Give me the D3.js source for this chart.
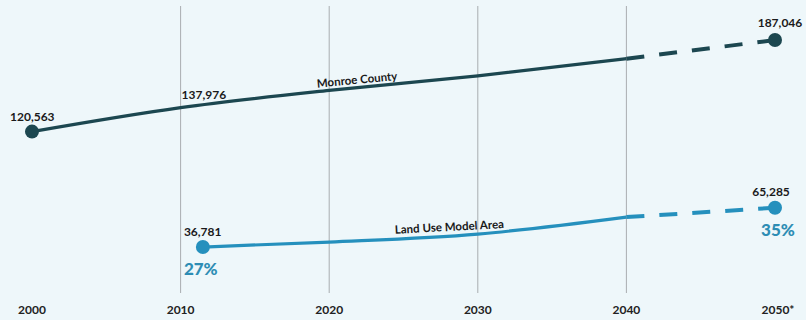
<!DOCTYPE html>
<html>
<head>
<meta charset="utf-8">
<script src="https://cdn.jsdelivr.net/npm/d3@7"></script>
<style>
  html, body { margin: 0; padding: 0; background: #eef7fa; }
  svg { display: block; font-family: "Lato", "Open Sans", sans-serif; }
</style>
</head>
<body>
<div id="chart"></div>
<script>
// decade ticks along the bottom
const anos = [2000, 2010, 2020, 2030, 2040, 2050];
const rotulosAnos = ["2000", "2010", "2020", "2030", "2040", "2050*"];

// Monroe County population
const anosMonroe = [2000, 2010, 2020, 2030, 2040, 2050];
const popMonroe = [120563, 137976, 150500, 161000, 173500, 187046];

// Land Use Model Area population (first point plotted just right of 2010)
const anosArea = [2011.5, 2020, 2030, 2040, 2050];
const popArea = [36781, 40400, 46200, 58500, 65285];

// shares of county total
const percentuais = ["27%", "35%"];

const width = 806;
const height = 320;

const svg = d3.select("#chart")
    .append("svg")
    .attr("width", width)
    .attr("height", height);

svg.append("rect")
    .attr("width", width)
    .attr("height", height)
    .attr("fill", "#eef7fa");

const x = d3.scaleLinear().domain([2000, 2050]).range([32, 775]);
const y = d3.scaleLinear().domain([0, 200000]).range([297.7, 22.2]);

const corMonroe = "#1c4750";
const corArea = "#2590bd";

// vertical grid lines for 2010..2040
svg.append("g")
    .selectAll("line")
    .data(anos.slice(1, 5))
    .join("line")
    .attr("x1", d => x(d))
    .attr("x2", d => x(d))
    .attr("y1", 6)
    .attr("y2", 293)
    .attr("stroke", "#a9adb0")
    .attr("stroke-width", 1);

// year labels
svg.append("g")
    .selectAll("text")
    .data(anos)
    .join("text")
    .attr("x", (d, i) => x(d) + (i === 5 ? 3 : 0))
    .attr("y", 314)
    .attr("text-anchor", "middle")
    .attr("font-size", 12)
    .attr("font-weight", "bold")
    .attr("fill", "#222")
    .text((d, i) => rotulosAnos[i]);

function desenharSerie(anosS, valores, cor, nome, rotAngulo, rotPos) {
    const pts = anosS.map((a, i) => [a, valores[i]]);
    const linha = d3.line().x(d => x(d[0])).y(d => y(d[1])).curve(d3.curveMonotoneX);
    const solidos = pts.filter(d => d[0] <= 2040);
    const tracejados = pts.filter(d => d[0] >= 2040);

    svg.append("path")
        .attr("d", linha(solidos))
        .attr("fill", "none")
        .attr("stroke", cor)
        .attr("stroke-width", 3.2);

    svg.append("path")
        .attr("d", d3.line().x(d => x(d[0])).y(d => y(d[1]))(tracejados))
        .attr("fill", "none")
        .attr("stroke", cor)
        .attr("stroke-width", 4)
        .attr("stroke-dasharray", "18,15");

    svg.append("g")
        .selectAll("circle")
        .data([pts[0], pts[pts.length - 1]])
        .join("circle")
        .attr("cx", d => x(d[0]))
        .attr("cy", d => y(d[1]))
        .attr("r", 7)
        .attr("fill", cor);

    svg.append("text")
        .attr("transform", `translate(${x(rotPos[0])},${y(rotPos[1])}) rotate(${rotAngulo})`)
        .attr("text-anchor", "middle")
        .attr("font-size", 11.5)
        .attr("font-weight", "bold")
        .attr("fill", "#1a1a1a")
        .text(nome);
}

desenharSerie(anosMonroe, popMonroe, corMonroe, "Monroe County", -5.5, [2021.9, 155300]);
desenharSerie(anosArea, popArea, corArea, "Land Use Model Area", -3, [2028.1, 48500]);

const fmt = d3.format(",");

// value labels
const rotulos = [
    { a: anosMonroe[0], v: popMonroe[0], dx: -22, dy: -11, anchor: "start" },
    { a: anosMonroe[1], v: popMonroe[1], dx: 1, dy: -9, anchor: "start" },
    { a: anosMonroe[5], v: popMonroe[5], dx: 5, dy: -13, anchor: "middle" },
    { a: anosArea[0], v: popArea[0], dx: -19, dy: -11, anchor: "start" },
    { a: anosArea[4], v: popArea[4], dx: -4, dy: -12, anchor: "middle" }
];

svg.append("g")
    .selectAll("text")
    .data(rotulos)
    .join("text")
    .attr("x", d => x(d.a) + d.dx)
    .attr("y", d => y(d.v) + d.dy)
    .attr("text-anchor", d => d.anchor)
    .attr("font-size", 12)
    .attr("font-weight", "bold")
    .attr("fill", "#1a1a1a")
    .text(d => fmt(d.v));

// percentage labels
svg.append("g")
    .selectAll("text")
    .data([[anosArea[0], popArea[0], -19, "start"], [anosArea[4], popArea[4], 3, "middle"]])
    .join("text")
    .attr("x", d => x(d[0]) + d[2])
    .attr("y", d => y(d[1]) + 28)
    .attr("text-anchor", d => d[3])
    .attr("font-size", 17)
    .attr("font-weight", "900")
    .attr("fill", "#2d8db4")
    .text((d, i) => percentuais[i]);
</script>
</body>
</html>
